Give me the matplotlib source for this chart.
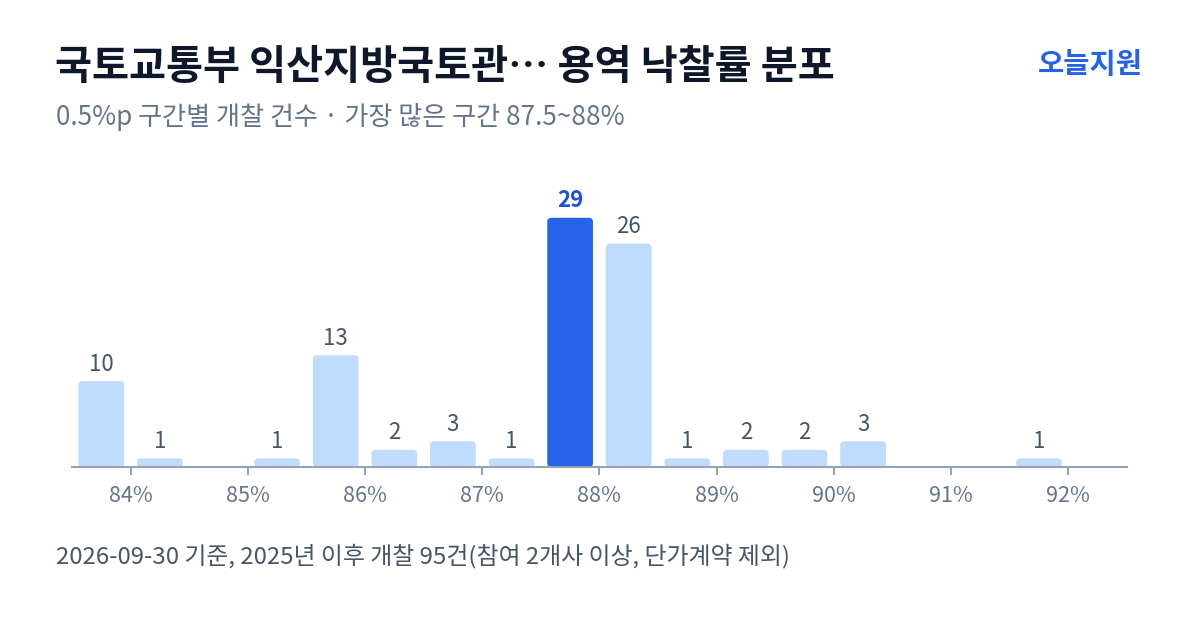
import matplotlib
matplotlib.use("Agg")
import matplotlib.pyplot as plt
from matplotlib.patches import FancyBboxPatch

plt.rcParams['font.family'] = ['Noto Sans CJK KR', 'DejaVu Sans']

# 0.5%p bins, bin centres in %
bin_centers = [83.75, 84.25, 84.75, 85.25, 85.75, 86.25, 86.75, 87.25, 87.75,
               88.25, 88.75, 89.25, 89.75, 90.25, 90.75, 91.25, 91.75, 92.25]
counts = [10, 1, 0, 1, 13, 2, 3, 1, 29, 26, 1, 2, 2, 3, 0, 0, 1, 0]
tick_values = [84, 85, 86, 87, 88, 89, 90, 91, 92]
tick_labels = ["84%", "85%", "86%", "87%", "88%", "89%", "90%", "91%", "92%"]
peak_center = 87.75

title = "국토교통부 익산지방국토관… 용역 낙찰률 분포"
subtitle = "0.5%p 구간별 개찰 건수 · 가장 많은 구간 87.5~88%"
footer = "2026-09-30 기준, 2025년 이후 개찰 95건(참여 2개사 이상, 단가계약 제외)"
brand = "오늘지원"

light = "#bfdbfe"
strong = "#2563eb"
axis_col = "#94a3b8"

fig = plt.figure(figsize=(12, 6.3), dpi=100)
ax = fig.add_axes([0.06, 0.2587, 0.879, 0.4556])
ax.set_xlim(83.5, 92.5)
ax.set_ylim(0, 33.4)

# data units per pixel, for circular corners
bbox = ax.get_window_extent()
x_per_px = 9.0 / bbox.width
y_per_px = 33.4 / bbox.height
radius = 4 * x_per_px
width = 0.39

for c, n in zip(bin_centers, counts):
    if n == 0:
        continue
    col = strong if c == peak_center else light
    patch = FancyBboxPatch((c - width / 2, 0), width, n,
                           boxstyle=f"round,pad=0,rounding_size={radius}",
                           mutation_aspect=y_per_px / x_per_px,
                           facecolor=col, edgecolor="none")
    ax.add_patch(patch)
    if c == peak_center:
        ax.annotate(str(n), (c, n), xytext=(0, 4), textcoords="offset points",
                    ha="center", va="bottom", fontsize=16, fontweight="bold",
                    color="#1d4ed8")
    else:
        ax.annotate(str(n), (c, n), xytext=(0, 4), textcoords="offset points",
                    ha="center", va="bottom", fontsize=16, color="#475569")

for s in ["top", "right", "left"]:
    ax.spines[s].set_visible(False)
ax.spines["bottom"].set_color(axis_col)
ax.spines["bottom"].set_linewidth(1.5)
ax.set_yticks([])
ax.set_xticks(tick_values)
ax.set_xticklabels(tick_labels)
ax.tick_params(axis="x", colors=axis_col, length=6, width=1.5, pad=7,
               labelsize=15.5, labelcolor="#64748b")

fig.text(0.046, 0.893, title, fontsize=29, fontweight="bold", color="#0f172a",
         va="center", ha="left")
fig.text(0.952, 0.897, brand, fontsize=20.5, fontweight="bold", color=strong,
         va="center", ha="right")
fig.text(0.047, 0.815, subtitle, fontsize=18.8, color="#64748b",
         va="center", ha="left")
fig.text(0.047, 0.117, footer, fontsize=17.25, color="#475569",
         va="center", ha="left")

fig.savefig("out.png", dpi=100)
